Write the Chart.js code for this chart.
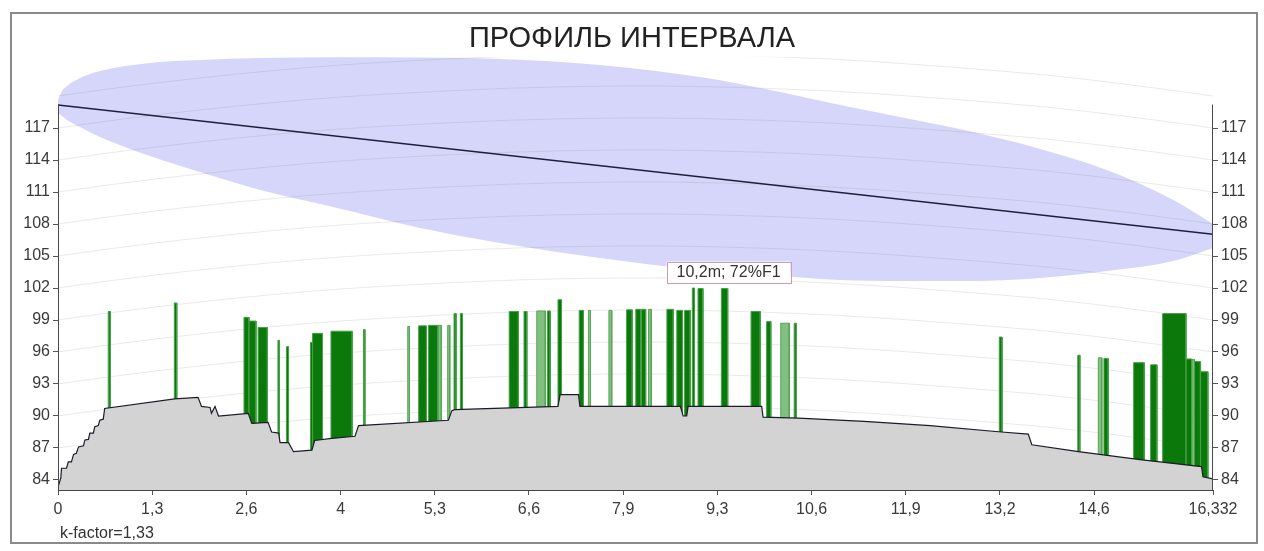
<!DOCTYPE html>
<html>
<head>
<meta charset="utf-8">
<title>Профиль интервала</title>
<script src="https://cdn.jsdelivr.net/npm/chart.js@4.4.1/dist/chart.umd.min.js"></script>
<style>
    html, body { margin: 0; padding: 0; background: #fff; }
    #wrap { position: relative; width: 1264px; height: 551px; }
    #frame { position: absolute; left: 10px; top: 12px; width: 1248px; height: 532px; box-sizing: border-box; border: 2px solid #8a8a8a; pointer-events: none; }
</style>
</head>
<body>
<div id="wrap">
    <canvas id="profileChart" width="1264" height="551"></canvas>
    <div id="frame"></div>
</div>
<script>
const pathLengthKm = 16.332;

// terrain profile (km, m)
const terrainKm = [0, 0.04, 0.05, 0.12, 0.146, 0.19, 0.22, 0.26, 0.29, 0.36, 0.38, 0.43, 0.45, 0.50, 0.52, 0.57, 0.59, 0.64, 0.66,
    1.65, 1.98, 2.03, 2.15, 2.17, 2.22, 2.27, 2.69, 2.74, 2.97, 3.02, 3.12, 3.14, 3.26, 3.33, 3.59, 3.63, 3.87, 4.20, 4.25,
    5.52, 5.57, 5.61, 7.07, 7.10, 7.36, 7.38, 8.80, 8.84, 8.89, 8.91, 9.95, 9.97, 10.47, 11.4, 12.33, 13.34, 13.72, 13.77,
    14.43, 15.3, 16.17, 16.19, 16.332];
const terrainM = [83.3, 84.2, 85.1, 85.1, 85.7, 85.7, 86.4, 86.5, 87.1, 87.2, 87.75, 87.8, 88.4, 88.4, 89.0, 89.1, 89.6, 89.7, 90.7,
    91.6, 91.75, 90.9, 90.8, 90.25, 90.9, 90.0, 90.25, 89.3, 89.4, 88.5, 88.4, 87.5, 87.5, 86.65, 86.8, 87.7, 87.9, 88.1, 89.1,
    89.6, 90.5, 90.6, 90.9, 92.0, 92.0, 90.9, 90.9, 90.0, 90.0, 90.9, 90.9, 89.9, 89.8, 89.5, 89.1, 88.5, 88.3, 87.3,
    86.65, 85.9, 85.25, 84.3, 84.1];

// vegetation (dark green)
const treeStartKm = [0.71, 1.645, 2.63, 2.70, 2.83, 3.11, 3.23, 3.57, 3.60, 3.86, 4.32, 5.10, 5.24, 5.60, 5.69, 6.38, 6.59, 6.92,
    7.07, 7.37, 8.04, 8.17, 8.25, 8.61, 8.75, 8.86, 8.97, 9.05, 9.38, 9.80, 10.02, 10.41, 13.31, 14.42, 14.79, 15.21, 15.45,
    15.62, 15.95, 16.07, 16.16];
const treeEndKm = [0.74, 1.68, 2.70, 2.80, 2.96, 3.13, 3.26, 3.60, 3.74, 4.16, 4.34, 5.21, 5.37, 5.63, 5.72, 6.51, 6.63, 6.96,
    7.12, 7.43, 8.12, 8.24, 8.31, 8.70, 8.83, 8.94, 9.00, 9.12, 9.47, 9.93, 10.08, 10.44, 13.35, 14.45, 14.85, 15.36, 15.54,
    15.95, 16.03, 16.15, 16.26];
const treeTopM = [99.8, 100.6, 99.25, 98.9, 98.3, 97.1, 96.5, 96.9, 97.75, 97.95, 98.1, 98.45, 98.5, 99.6, 99.6, 99.8, 99.8, 99.85,
    100.9, 99.9, 99.95, 100.0, 100.0, 100.0, 99.9, 99.9, 102.0, 101.95, 101.95, 99.8, 98.85, 98.7, 97.4, 95.7, 95.4, 95.0, 94.8,
    99.6, 95.35, 95.1, 94.15];

// vegetation (light green)
const paleStartKm = [4.945, 5.37, 5.51, 6.77, 7.50, 7.79, 8.35, 10.22, 14.71, 16.03];
const paleEndKm = [4.97, 5.42, 5.54, 6.89, 7.53, 7.83, 8.39, 10.34, 14.76, 16.07];
const paleTopM = [98.4, 98.5, 98.5, 99.85, 99.9, 99.9, 100.0, 98.7, 95.45, 95.3];

// first Fresnel zone outline
const fresnelKm = [0, 0.057, 0.127, 0.311, 0.594, 1.30, 2.01, 2.86, 3.89, 5.12, 6.25, 7.66, 9.08, 10.21, 11.06, 11.91, 12.94,
    13.89, 14.83, 15.77, 16.332];
const fresnelUpperM = [119.62, 120.47, 120.94, 121.69, 122.34, 123.09, 123.37, 123.56, 123.63, 123.61, 123.47, 122.91, 121.78,
    120.37, 119.16, 118.03, 116.62, 115.03, 113.06, 110.25, 108.0];
const fresnelLowerM = [118.41, 118.12, 117.75, 117.09, 116.16, 114.37, 112.87, 111.19, 109.59, 107.62, 106.22, 104.81, 103.69,
    103.12, 102.75, 102.66, 102.66, 102.94, 103.59, 104.53, 105.75];

// line of sight
const losKm = [0, 16.332];
const losM = [119.15, 107.05];

// earth bulge for the curved grid
const bulgeKm = [0, 0.5, 1, 2, 3, 4, 5, 6, 7, 8.17, 9, 10, 11, 12, 13, 14, 15, 16, 16.332];
const bulgeM = [0, 0.47, 0.91, 1.69, 2.36, 2.91, 3.31, 3.63, 3.85, 3.94, 3.90, 3.72, 3.44, 3.02, 2.52, 1.95, 1.19, 0.31, 0];
const gridLevels = [84, 87, 90, 93, 96, 99, 102, 105, 108, 111, 114, 117, 120];

const yTickValues = [84, 87, 90, 93, 96, 99, 102, 105, 108, 111, 114, 117];
const xTickValues = [0, 1.332, 2.664, 3.996, 5.328, 6.66, 7.992, 9.324, 10.656, 11.988, 13.32, 14.652, 16.332];
const xTickLabels = ['0', '1,3', '2,6', '4', '5,3', '6,6', '7,9', '9,3', '10,6', '11,9', '13,2', '14,6', '16,332'];

const clearanceText = '10,2m; 72%F1';
const clearanceKm = 9.425;
const clearanceM = 101.95;
const kFactorText = 'k-factor=1,33';

const Y_MIN = 83.06;
const Y_MAX = 123.68;
const AXIS_TOP = 119.2;
const FONT = 'Liberation Sans, Arial, sans-serif';

const toPoints = (xs, ys) => xs.map((x, i) => ({ x: x, y: ys[i] }));

const toBars = (starts, ends, tops) => {
    const pts = [];
    starts.forEach((x0, i) => {
        pts.push({ x: x0, y: 80 }, { x: x0, y: tops[i] }, { x: ends[i], y: tops[i] }, { x: ends[i], y: 80 });
    });
    return pts;
};

const gridSets = gridLevels.map(level => ({
    data: bulgeKm.map((x, i) => ({ x: x, y: level + bulgeM[i] })),
    borderColor: 'rgba(120, 120, 120, 0.16)',
    borderWidth: 1,
    cubicInterpolationMode: 'monotone',
    fill: false,
    order: 10
}));

const profileExtras = {
    id: 'profileExtras',
    afterDraw(chart) {
        const { ctx, chartArea, scales } = chart;
        const x = scales.x;
        const y = scales.y;
        ctx.save();

        // axis lines stop at the top of the tick range
        const top = y.getPixelForValue(AXIS_TOP);
        ctx.strokeStyle = '#4a4a4a';
        ctx.lineWidth = 1;
        ctx.beginPath();
        ctx.moveTo(chartArea.left + 0.5, chartArea.bottom);
        ctx.lineTo(chartArea.left + 0.5, top);
        ctx.moveTo(chartArea.right - 0.5, chartArea.bottom);
        ctx.lineTo(chartArea.right - 0.5, top);
        ctx.stroke();

        // clearance label
        ctx.font = '16px ' + FONT;
        const tw = ctx.measureText(clearanceText).width;
        const w = tw + 20;
        const h = 21;
        const px = x.getPixelForValue(clearanceKm) + 4;
        const py = y.getPixelForValue(clearanceM) - 6;
        ctx.fillStyle = '#ffffff';
        ctx.fillRect(px - w / 2, py - h, w, h);
        ctx.strokeStyle = '#cc9db0';
        ctx.strokeRect(Math.round(px - w / 2) + 0.5, Math.round(py - h) + 0.5, Math.round(w), h);
        ctx.fillStyle = '#333';
        ctx.textAlign = 'center';
        ctx.textBaseline = 'middle';
        ctx.fillText(clearanceText, px, py - h / 2 + 1);

        // k-factor note
        ctx.textAlign = 'left';
        ctx.textBaseline = 'alphabetic';
        ctx.fillText(kFactorText, 60, 538);
        ctx.restore();
    }
};

const yTicks = (scale) => { scale.ticks = yTickValues.map(v => ({ value: v })); };
const tickFont = { family: FONT, size: 16 };

const ctx = document.getElementById('profileChart').getContext('2d');
const profileChart = new Chart(ctx, {
    type: 'line',
    data: {
        datasets: [
            {
                data: toPoints(losKm, losM),
                borderColor: '#1e1e3c',
                borderWidth: 1.5,
                fill: false,
                order: 1
            },
            {
                data: toPoints(terrainKm, terrainM),
                borderColor: '#1c1c28',
                borderWidth: 1.2,
                backgroundColor: '#d3d3d3',
                fill: 'start',
                order: 3
            },
            {
                data: toBars(treeStartKm, treeEndKm, treeTopM),
                borderColor: '#46a046',
                borderWidth: 1,
                backgroundColor: '#0a780a',
                fill: 'start',
                order: 5
            },
            {
                data: toBars(paleStartKm, paleEndKm, paleTopM),
                borderColor: '#5aa55a',
                borderWidth: 1,
                backgroundColor: '#82c082',
                fill: 'start',
                order: 6
            },
            {
                data: toPoints(fresnelKm, fresnelUpperM),
                borderWidth: 0,
                borderColor: 'rgba(0,0,0,0)',
                backgroundColor: '#d6d6fa',
                cubicInterpolationMode: 'monotone',
                fill: '+1',
                order: 12
            },
            {
                data: toPoints(fresnelKm, fresnelLowerM),
                borderWidth: 0,
                borderColor: 'rgba(0,0,0,0)',
                cubicInterpolationMode: 'monotone',
                fill: false,
                order: 13
            },
            ...gridSets
        ]
    },
    options: {
        responsive: false,
        devicePixelRatio: 1,
        animation: false,
        events: [],
        layout: { padding: 0 },
        elements: { point: { radius: 0 }, line: { tension: 0 } },
        plugins: {
            legend: { display: false },
            tooltip: { enabled: false },
            title: {
                display: true,
                text: 'ПРОФИЛЬ ИНТЕРВАЛА',
                color: '#222',
                font: { family: FONT, size: 29, weight: 'normal' },
                padding: { top: 22, bottom: 0 }
            }
        },
        scales: {
            x: {
                type: 'linear',
                min: 0,
                max: pathLengthKm,
                afterBuildTicks: (scale) => { scale.ticks = xTickValues.map(v => ({ value: v })); },
                afterFit: (scale) => { scale.height = 61; },
                grid: { drawOnChartArea: false, drawTicks: true, tickLength: 5, color: '#555' },
                border: { display: true, color: '#444' },
                ticks: {
                    autoSkip: false,
                    maxRotation: 0,
                    padding: 5,
                    color: '#3a3a3a',
                    font: tickFont,
                    callback: (v, i) => xTickLabels[i]
                }
            },
            y: {
                position: 'left',
                min: Y_MIN,
                max: Y_MAX,
                afterBuildTicks: yTicks,
                afterFit: (scale) => { scale.width = 58; },
                grid: { drawOnChartArea: false, drawTicks: true, tickLength: 5, color: '#555' },
                border: { display: false },
                ticks: { padding: 3, color: '#3a3a3a', font: tickFont, callback: v => String(v) }
            },
            y2: {
                position: 'right',
                min: Y_MIN,
                max: Y_MAX,
                afterBuildTicks: yTicks,
                afterFit: (scale) => { scale.width = 51; },
                grid: { drawOnChartArea: false, drawTicks: true, tickLength: 5, color: '#555' },
                border: { display: false },
                ticks: { padding: 3, color: '#3a3a3a', font: tickFont, callback: v => String(v) }
            }
        }
    },
    plugins: [profileExtras]
});
</script>
</body>
</html>
